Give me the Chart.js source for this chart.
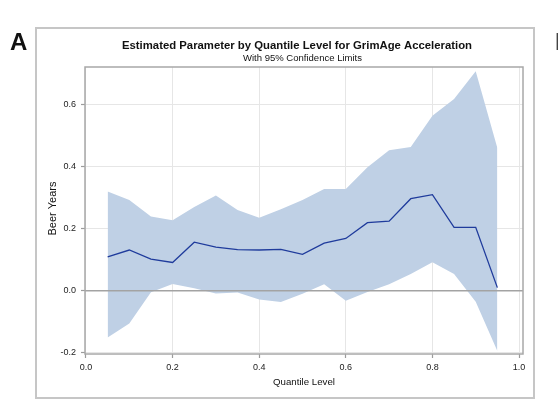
<!DOCTYPE html>
<html>
<head>
<meta charset="utf-8">
<script src="https://cdn.jsdelivr.net/npm/chart.js@4.4.0/dist/chart.umd.min.js"></script>
<style>
html,body{margin:0;padding:0;background:#fff;}
#wrap{width:558px;height:413px;position:relative;}
canvas{display:block;}
</style>
</head>
<body>
<div id="wrap"><canvas id="c" width="558" height="413"></canvas></div>
<script>
// ---- data ----
const quantiles = [0.05,0.10,0.15,0.20,0.25,0.30,0.35,0.40,0.45,0.50,0.55,0.60,0.65,0.70,0.75,0.80,0.85,0.90,0.95];
const estimate  = [0.109,0.131,0.102,0.091,0.156,0.140,0.132,0.131,0.133,0.117,0.153,0.168,0.219,0.224,0.296,0.309,0.204,0.204,0.010];
const upperCL   = [0.319,0.292,0.239,0.227,0.269,0.306,0.260,0.235,0.262,0.292,0.327,0.327,0.397,0.452,0.462,0.563,0.617,0.706,0.459];
const lowerCL   = [-0.150,-0.105,-0.005,0.022,0.008,-0.009,-0.006,-0.028,-0.036,-0.010,0.021,-0.032,-0.004,0.021,0.054,0.092,0.054,-0.035,-0.194];
const xTicks = [0.0,0.2,0.4,0.6,0.8,1.0];
const yTicks = [-0.2,0.0,0.2,0.4,0.6];
const titleText = 'Estimated Parameter by Quantile Level for GrimAge Acceleration';
const subtitleText = 'With 95% Confidence Limits';
const xTitleText = 'Quantile Level';
const yTitleText = 'Beer Years';
const panelLabel = 'A';
const nextPanelLabel = 'B';

const FONT = '"Liberation Sans", Arial, sans-serif';
const BAND = '#bfd0e5';
const LINE = '#1f3b9c';

function pts(ys){ return quantiles.map((q,i)=>({x:q,y:ys[i]})); }

// fit a font size so that text spans a target width
function fitFont(ctx, text, weight, target, maxSize){
  ctx.font = weight + ' 10px ' + FONT;
  const w = ctx.measureText(text).width;
  return Math.min(maxSize, 10 * target / w);
}

const deco = {
  id: 'deco',
  beforeDraw(chart){
    const ctx = chart.ctx;
    ctx.save();
    ctx.fillStyle = '#fff';
    ctx.fillRect(0,0,chart.width,chart.height);
    // outer frame
    ctx.strokeStyle = '#c6c6c6';
    ctx.lineWidth = 2;
    ctx.strokeRect(36, 28, 498, 370);
    // panel letters
    ctx.fillStyle = '#111';
    ctx.font = 'bold 24px ' + FONT;
    ctx.textBaseline = 'alphabetic';
    ctx.textAlign = 'left';
    ctx.fillText(panelLabel, 10, 50);
    ctx.fillStyle = '#444';
    ctx.fillText(nextPanelLabel, 555, 50);
    // titles
    ctx.fillStyle = '#111';
    ctx.textAlign = 'center';
    let s = fitFont(ctx, titleText, 'bold', 350, 13);
    ctx.font = 'bold ' + s.toFixed(2) + 'px ' + FONT;
    ctx.fillText(titleText, 297, 49);
    s = fitFont(ctx, subtitleText, 'normal', 119, 11);
    ctx.font = s.toFixed(2) + 'px ' + FONT;
    ctx.fillText(subtitleText, 302.5, 61);
    // axis titles
    const ca = chart.chartArea;
    s = fitFont(ctx, xTitleText, 'normal', 62, 11);
    ctx.font = s.toFixed(2) + 'px ' + FONT;
    ctx.textBaseline = 'middle';
    ctx.fillText(xTitleText, (ca.left + ca.right)/2, 382);
    s = fitFont(ctx, yTitleText, 'normal', 57, 11);
    ctx.font = s.toFixed(2) + 'px ' + FONT;
    ctx.translate(53, (ca.top + ca.bottom)/2 - 2);
    ctx.rotate(-Math.PI/2);
    ctx.fillText(yTitleText, 0, 0);
    ctx.restore();
  },
  afterDatasetDraw(chart, args){
    if (args.index !== 1) return;
    const ctx = chart.ctx, ca = chart.chartArea;
    const y0 = chart.scales.y.getPixelForValue(0);
    ctx.save();
    ctx.strokeStyle = '#a3a3a3';
    ctx.lineWidth = 1.5;
    ctx.beginPath();
    ctx.moveTo(ca.left, y0);
    ctx.lineTo(ca.right, y0);
    ctx.stroke();
    ctx.restore();
  },
  afterDraw(chart){
    const ctx = chart.ctx, ca = chart.chartArea;
    ctx.save();
    ctx.strokeStyle = '#a8a8a8';
    ctx.lineWidth = 1.5;
    ctx.strokeRect(ca.left, ca.top, ca.right - ca.left, ca.bottom - ca.top);
    ctx.restore();
  }
};

new Chart(document.getElementById('c'), {
  type: 'line',
  data: {
    datasets: [
      { label: 'Lower', data: pts(lowerCL), borderWidth: 0, borderColor: 'rgba(0,0,0,0)', pointRadius: 0, fill: false, order: 2 },
      { label: 'Upper', data: pts(upperCL), borderWidth: 0, borderColor: 'rgba(0,0,0,0)', pointRadius: 0, fill: '-1', backgroundColor: BAND, order: 1 },
      { label: 'Estimate', data: pts(estimate), borderColor: LINE, borderWidth: 1.3, pointRadius: 0, fill: false, order: 0 }
    ]
  },
  options: {
    responsive: false,
    animation: false,
    devicePixelRatio: 1,
    layout: { padding: { left: 40, right: 35, top: 67, bottom: 18 } },
    plugins: { legend: { display: false }, tooltip: { enabled: false }, title: { display: false } },
    elements: { line: { tension: 0 } },
    scales: {
      x: {
        type: 'linear',
        min: -0.0023, max: 1.0092,
        afterBuildTicks: sc => { sc.ticks = xTicks.map(v => ({ value: v })); },
        afterFit: sc => { sc.height = 41; },
        border: { display: false },
        grid: { color: '#e6e6e6', lineWidth: 1, drawTicks: true, tickLength: 4, tickColor: '#9c9c9c', tickWidth: 1.2 },
        ticks: { font: { family: FONT, size: 9 }, color: '#222', padding: 4, maxRotation: 0,
                 callback: v => Number(v).toFixed(1) }
      },
      y: {
        type: 'linear',
        min: -0.2034, max: 0.7195,
        afterBuildTicks: sc => { sc.ticks = yTicks.map(v => ({ value: v })); },
        afterFit: sc => { sc.width = 45; },
        border: { display: false },
        grid: { color: '#e6e6e6', lineWidth: 1, drawTicks: true, tickLength: 4, tickColor: '#9c9c9c', tickWidth: 1.2 },
        ticks: { font: { family: FONT, size: 9 }, color: '#222', padding: 5,
                 callback: v => Number(v).toFixed(1) }
      }
    }
  },
  plugins: [deco]
});
</script>
</body>
</html>
